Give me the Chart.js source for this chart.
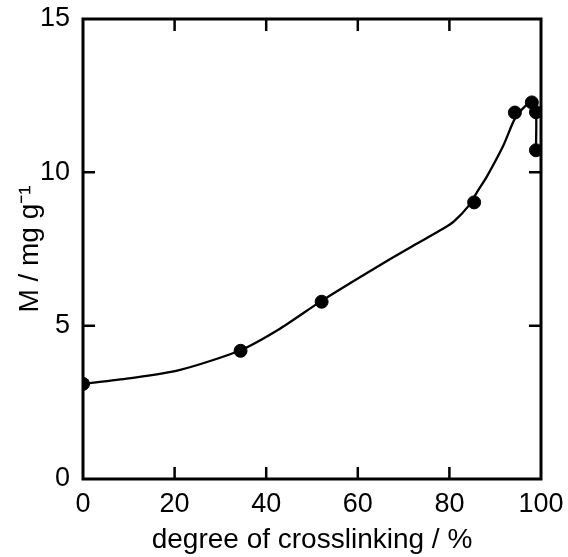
<!DOCTYPE html>
<html>
<head>
<meta charset="utf-8">
<script src="https://cdn.jsdelivr.net/npm/chart.js@4"></script>
<style>
html,body{margin:0;padding:0;background:#fff;}
#wrap{width:568px;height:557px;position:relative;}
</style>
</head>
<body>
<div id="wrap"><canvas id="c" width="568" height="557"></canvas></div>
<script>
// Measured points
const pointX = [0, 34.4, 52.1, 85.4, 94.3, 98.0, 98.9, 98.9];
const pointY = [3.1, 4.18, 5.78, 9.02, 11.95, 12.28, 11.96, 10.72];
// Smooth curve
const curveX = [0, 10, 21, 34.4, 43, 52, 62, 72, 78.6, 81, 84.1, 86, 88.2, 91.7, 94.3, 96.5, 98, 98.9, 98.9];
const curveY = [3.1, 3.28, 3.55, 4.2, 4.9, 5.8, 6.72, 7.6, 8.16, 8.4, 8.89, 9.35, 9.87, 10.85, 11.75, 12.15, 12.28, 12.0, 10.7];
const xTicks = [0, 20, 40, 60, 80, 100];
const yTicks = [0, 5, 10, 15];
const xTitle = 'degree of crosslinking / %';
const yTitle = 'M / mg g\u207B\u00B9';

const FONT = "'Liberation Sans', Arial, Helvetica, sans-serif";

const frameTicks = {
  id: 'frameTicks',
  afterDraw(chart) {
    const ctx = chart.ctx, a = chart.chartArea;
    const xs = chart.scales.x, ys = chart.scales.y;
    ctx.save();
    ctx.strokeStyle = '#000';
    ctx.lineWidth = 3;
    ctx.strokeRect(a.left, a.top, a.right - a.left, a.bottom - a.top);
    const L = 12;
    ctx.lineWidth = 2.5;
    ctx.beginPath();
    xTicks.forEach(v => {
      if (v <= xs.min || v >= xs.max) return;
      const p = xs.getPixelForValue(v);
      ctx.moveTo(p, a.bottom); ctx.lineTo(p, a.bottom - L);
      ctx.moveTo(p, a.top); ctx.lineTo(p, a.top + L);
    });
    yTicks.forEach(v => {
      if (v <= ys.min || v >= ys.max) return;
      const p = ys.getPixelForValue(v);
      ctx.moveTo(a.left, p); ctx.lineTo(a.left + L, p);
      ctx.moveTo(a.right, p); ctx.lineTo(a.right - L, p);
    });
    ctx.stroke();
    ctx.restore();
  }
};

new Chart(document.getElementById('c'), {
  type: 'scatter',
  data: {
    datasets: [
      {
        type: 'line',
        data: curveX.map((x, i) => ({x, y: curveY[i]})),
        borderColor: '#000',
        borderWidth: 2.3,
        pointRadius: 0,
        tension: 0.25,
        fill: false,
        order: 2
      },
      {
        data: pointX.map((x, i) => ({x, y: pointY[i]})),
        backgroundColor: '#000',
        borderColor: '#000',
        pointRadius: 6.5,
        order: 1
      }
    ]
  },
  options: {
    responsive: false,
    animation: false,
    devicePixelRatio: 1,
    layout: { padding: { top: 19, right: 27, left: 0, bottom: 0 } },
    plugins: { legend: { display: false }, tooltip: { enabled: false } },
    scales: {
      x: {
        type: 'linear', min: 0, max: 100,
        afterBuildTicks(s) { s.ticks = xTicks.map(v => ({value: v})); },
        afterFit(s) { s.height = 78; s.paddingLeft = 0; s.paddingRight = 0; },
        grid: { display: false, drawTicks: false },
        border: { display: false },
        ticks: { color: '#000', font: { family: FONT, size: 27 }, padding: 9, maxRotation: 0 },
        title: { display: true, text: xTitle, color: '#000', font: { family: FONT, size: 28 }, padding: { top: 2, bottom: 0 } }
      },
      y: {
        type: 'linear', min: 0, max: 15,
        afterBuildTicks(s) { s.ticks = yTicks.map(v => ({value: v})); },
        afterFit(s) { s.width = 83; s.paddingTop = 0; s.paddingBottom = 0; },
        grid: { display: false, drawTicks: false },
        border: { display: false },
        ticks: { color: '#000', font: { family: FONT, size: 27 }, padding: 13 },
        title: { display: true, text: yTitle, color: '#000', font: { family: FONT, size: 28 }, padding: { top: 13, bottom: 0 } }
      }
    }
  },
  plugins: [frameTicks]
});
</script>
</body>
</html>
